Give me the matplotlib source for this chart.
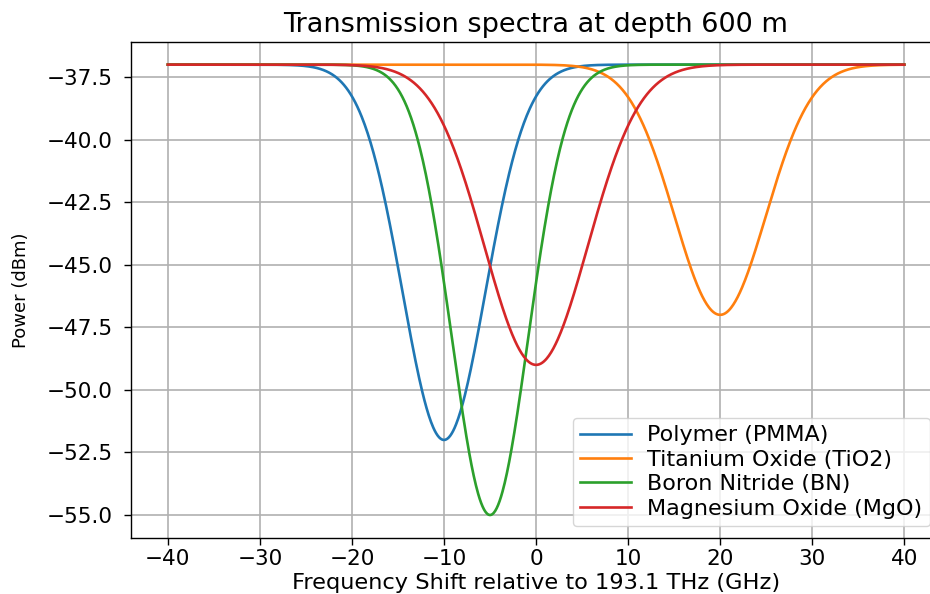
import matplotlib
matplotlib.use("Agg")
import matplotlib.pyplot as plt
import numpy as np

# Dip parameters (GHz, dBm)
materials = ["Polymer (PMMA)", "Titanium Oxide (TiO2)", "Boron Nitride (BN)", "Magnesium Oxide (MgO)"]
centers = [-10.0, 20.0, -5.0, 0.0]
minimum_power = [-52.0, -47.0, -55.0, -49.0]
widths = [4.5, 4.95, 4.15, 5.6]   # gaussian sigma
baseline = -37.0
colors = ["#1f77b4", "#ff7f0e", "#2ca02c", "#d62728"]

freq = np.linspace(-40, 40, 1000)

fig = plt.figure(figsize=(9.3, 5.94), dpi=100)
ax = fig.add_axes([0.1409, 0.0951, 0.871, 0.834])

for name, c0, pmin, s, col in zip(materials, centers, minimum_power, widths, colors):
    power = baseline - (baseline - pmin) * np.exp(-(freq - c0) ** 2 / (2 * s ** 2))
    ax.plot(freq, power, color=col, lw=1.9, label=name)

ax.set_xticks([-40, -30, -20, -10, 0, 10, 20, 30, 40])
ax.set_yticks([-37.5, -40.0, -42.5, -45.0, -47.5, -50.0, -52.5, -55.0])
ax.tick_params(labelsize=15.5, length=5, width=1.0)
ax.tick_params(axis="y", pad=8)
ax.grid(True, color="#b0b0b0", lw=1.2)
for sp in ax.spines.values():
    sp.set_linewidth(1.0)

ax.set_title("Transmission spectra at depth 600 m", fontsize=19.5, pad=7)
ax.set_xlabel("Frequency Shift relative to 193.1 THz (GHz)", fontsize=16.2, labelpad=3)
ax.set_ylabel("Power (dBm)", fontsize=13)
ax.yaxis.set_label_coords(-0.125, 0.5)
ax.legend(loc="lower right", fontsize=16, labelspacing=0.2, handlelength=2.3,
          handletextpad=0.7, borderpad=0.35)

fig.savefig("out.png", dpi=100)
plt.close(fig)
